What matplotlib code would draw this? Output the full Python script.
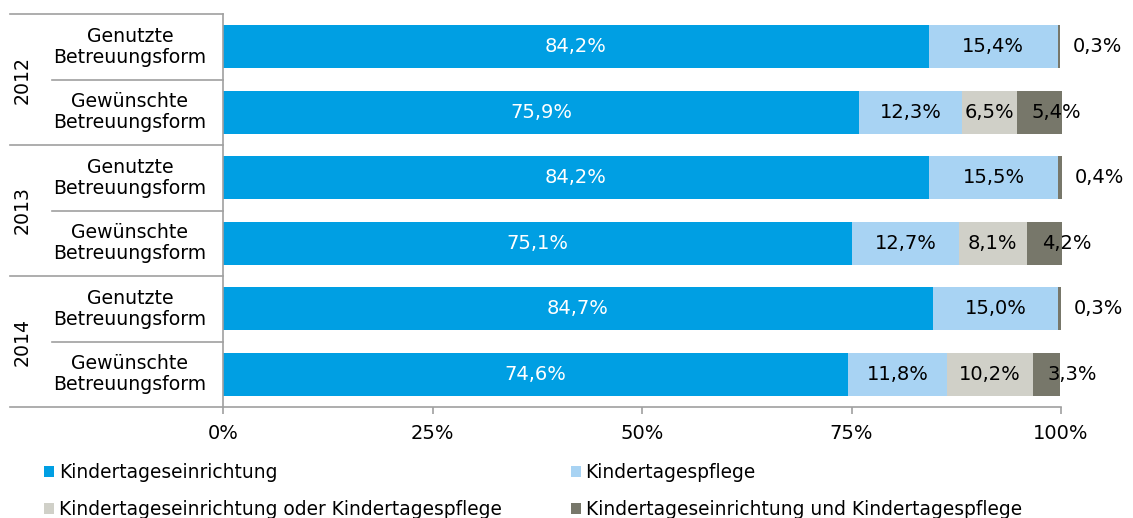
import matplotlib
matplotlib.use("Agg")
import matplotlib.pyplot as plt
from matplotlib.patches import Patch
import numpy as np

plt.rcParams['font.family'] = ['DejaVu Sans']

years = ["2012", "2013", "2014"]
row_labels = ["Genutzte\nBetreuungsform", "Gewünschte\nBetreuungsform"] * 3
series_names = ["Kindertageseinrichtung", "Kindertagespflege",
                "Kindertageseinrichtung oder Kindertagespflege",
                "Kindertageseinrichtung und Kindertagespflege"]
kita = [84.2, 75.9, 84.2, 75.1, 84.7, 74.6]
pflege = [15.4, 12.3, 15.5, 12.7, 15.0, 11.8]
oder = [0.0, 6.5, 0.0, 8.1, 0.0, 10.2]
und = [0.3, 5.4, 0.4, 4.2, 0.3, 3.3]
colors = ["#009FE3", "#A8D3F3", "#D0D0C8", "#77776A"]
label_colors = ["white", "black", "black", "black"]

FS = 14
FS_CAT = 13.6
FS_LEG = 13.4

fig = plt.figure(figsize=(11.33, 5.18), dpi=100)
W, H = 1133, 518
x0, x1, y0, y1 = 223, 1061, 14, 407
ax = fig.add_axes([x0 / W, 1 - y1 / H, (x1 - x0) / W, (y1 - y0) / H])

data = [kita, pflege, oder, und]
n = len(kita)
ypos = np.arange(n)
left = np.zeros(n)
for si, vals in enumerate(data):
    vals = np.array(vals)
    ax.barh(ypos, vals, left=left, height=0.66, color=colors[si],
            edgecolor="none", label=series_names[si], clip_on=False)
    for i in range(n):
        v = vals[i]
        if v <= 0:
            continue
        txt = f"{v:.1f}%".replace(".", ",")
        if si == 3:
            if v < 1:
                ax.annotate(txt, (left[i] + v, i), xytext=(9, 0),
                            textcoords="offset points", ha="left", va="center",
                            fontsize=FS, color="black", annotation_clip=False)
            else:
                ax.annotate(txt, (left[i], i), xytext=(11, 0),
                            textcoords="offset points", ha="left", va="center",
                            fontsize=FS, color="black", annotation_clip=False)
        else:
            ax.text(left[i] + v / 2, i, txt, ha="center", va="center",
                    fontsize=FS, color=label_colors[si])
    left = left + vals

ax.set_xlim(0, 100)
ax.set_ylim(n - 0.5, -0.5)
ax.set_xticks([0, 25, 50, 75, 100])
ax.set_xticklabels(["0%", "25%", "50%", "75%", "100%"], fontsize=FS)
ax.set_yticks([])
for s in ["top", "right"]:
    ax.spines[s].set_visible(False)
for s in ["left", "bottom"]:
    ax.spines[s].set_color("#A0A0A0")
    ax.spines[s].set_linewidth(1.2)
ax.tick_params(axis="x", color="#A0A0A0", length=5, width=1.2, pad=7)

# category labels and separators
tr = ax.get_yaxis_transform()
axw = x1 - x0
lbl_x = (130 - x0) / axw
yr_x = (22 - x0) / axw
grp_start = (10 - x0) / axw
inner_start = (52 - x0) / axw
for i, lab in enumerate(row_labels):
    ax.text(lbl_x, i, lab, transform=tr, ha="center", va="center",
            fontsize=FS_CAT, linespacing=1.12)
for g, yr in enumerate(years):
    ax.text(yr_x, 2 * g + 0.5, yr, transform=tr, ha="center", va="center",
            rotation=90, fontsize=FS_CAT)
for yb in [-0.5, 1.5, 3.5, 5.5]:
    ax.plot([grp_start, 0], [yb, yb], transform=tr, color="#A0A0A0",
            lw=1.2, clip_on=False)
for yb in [0.5, 2.5, 4.5]:
    ax.plot([inner_start, 0], [yb, yb], transform=tr, color="#A0A0A0",
            lw=1.2, clip_on=False)

# legend filled row-wise (matplotlib fills column-wise)
order = [0, 2, 1, 3]
handles = [Patch(facecolor=colors[k], edgecolor="none") for k in order]
labels = [series_names[k] for k in order]
fig.legend(handles, labels, ncol=2, loc="upper left",
           bbox_to_anchor=(31 / W, 1 - 450 / H), frameon=False, fontsize=FS_LEG,
           handlelength=0.55, handleheight=0.55, handletextpad=0.25,
           columnspacing=3.7, labelspacing=0.95, borderpad=0.2)

fig.savefig("out.png", dpi=100)
